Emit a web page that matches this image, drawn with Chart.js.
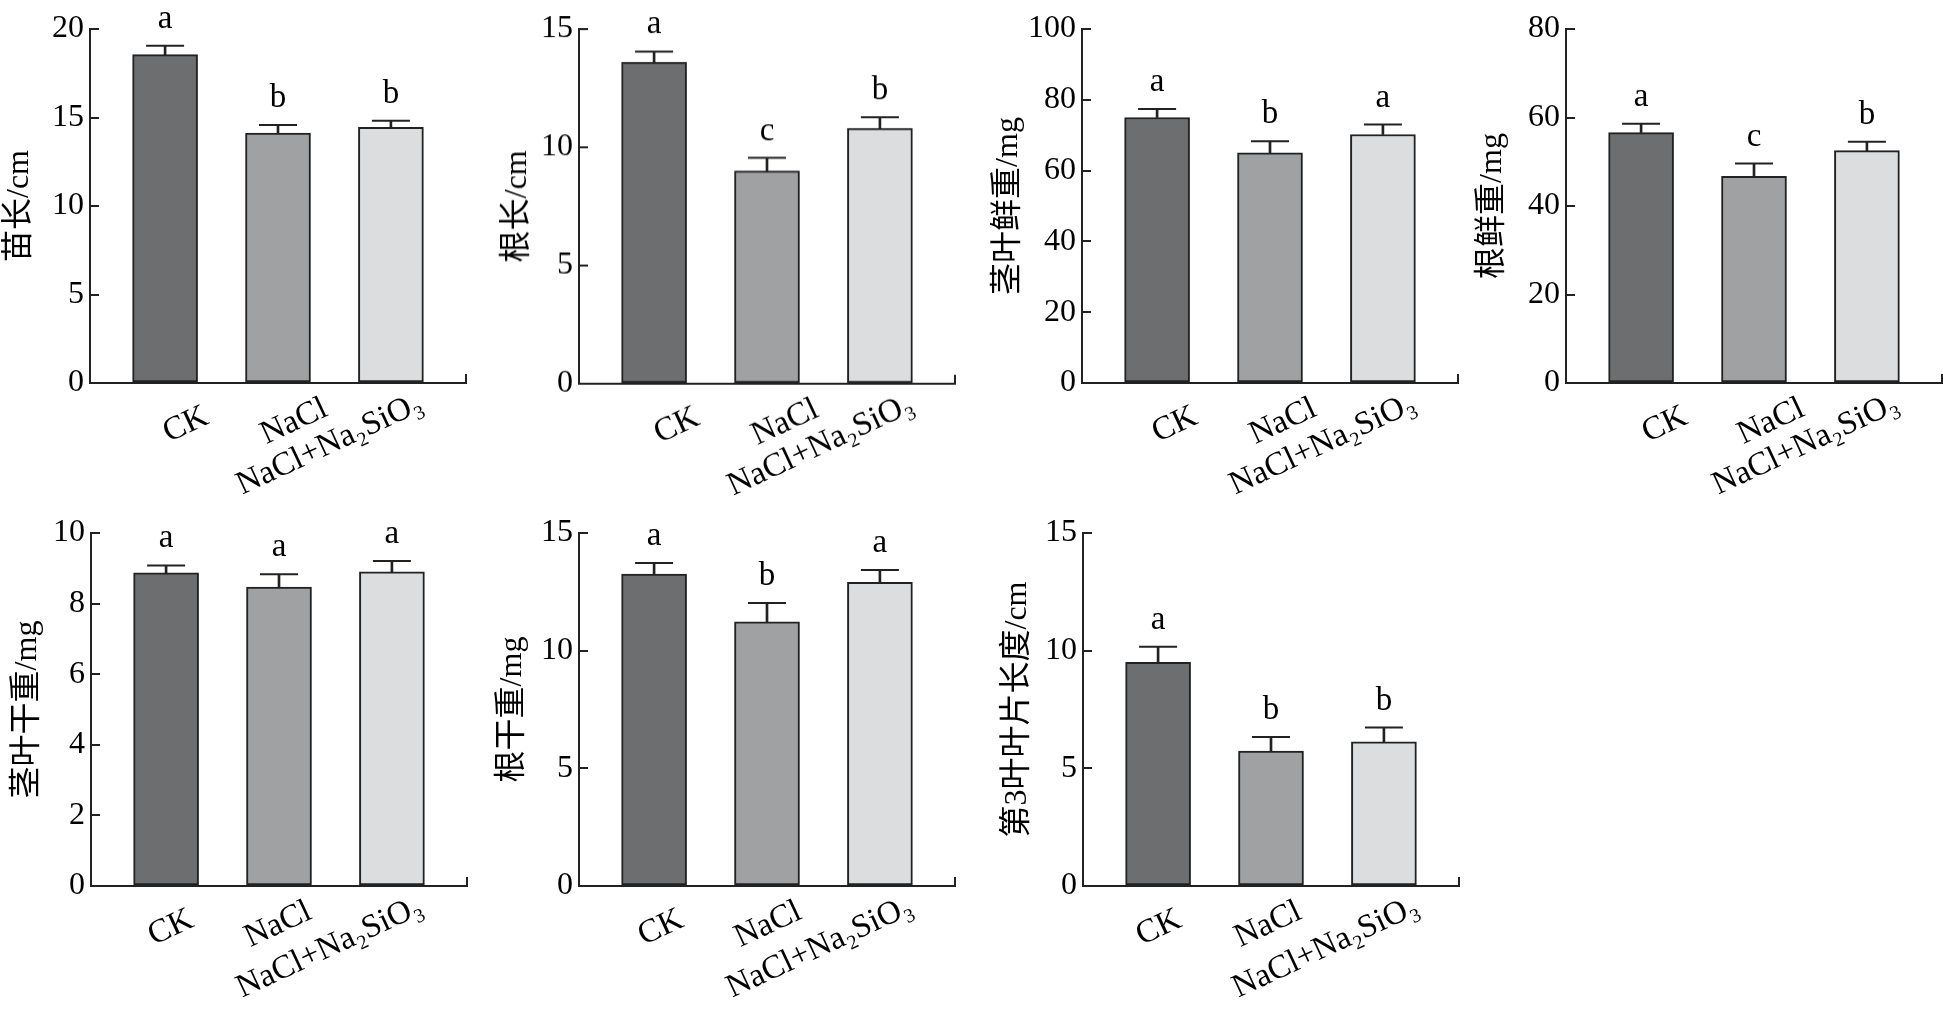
<!DOCTYPE html>
<html><head><meta charset="utf-8">
<script src="https://cdn.jsdelivr.net/npm/chart.js@4.4.1/dist/chart.umd.min.js"></script>
<style>
html,body{margin:0;padding:0;background:#fff;width:1943px;height:1023px;overflow:hidden}
#wrap{position:relative;width:1943px;height:1023px;overflow:hidden}
#wrap canvas{position:absolute}
</style></head><body><div id="wrap"></div>
<script>
// ---- data ----
const categories = ['CK', 'NaCl', 'NaCl+Na₂SiO₃'];
const titles = ['苗长/cm', '根长/cm', '茎叶鲜重/mg', '根鲜重/mg', '茎叶干重/mg', '根干重/mg', '第3叶叶片长度/cm'];
const yMax  = [20, 15, 100, 80, 10, 15, 15];
const yStep = [5, 5, 20, 20, 2, 5, 5];
const shootLength   = [18.55, 14.12, 14.44];
const rootLength    = [13.6, 9.0, 10.8];
const shootFresh    = [75.0, 65.0, 70.2];
const rootFresh     = [56.6, 46.7, 52.5];
const shootDry      = [8.87, 8.47, 8.90];
const rootDry       = [13.25, 11.23, 12.9];
const leaf3Length   = [9.5, 5.73, 6.13];
const shootLengthSE = [0.5, 0.45, 0.38];
const rootLengthSE  = [0.45, 0.55, 0.47];
const shootFreshSE  = [2.4, 3.3, 2.8];
const rootFreshSE   = [2.0, 2.9, 2.0];
const shootDrySE    = [0.21, 0.36, 0.31];
const rootDrySE     = [0.47, 0.8, 0.53];
const leaf3LengthSE = [0.67, 0.6, 0.6];
const sigLetters = [['a','b','b'], ['a','c','b'], ['a','b','a'], ['a','c','b'], ['a','a','a'], ['a','b','a'], ['a','b','b']];

const means = [shootLength, rootLength, shootFresh, rootFresh, shootDry, rootDry, leaf3Length];
const errs  = [shootLengthSE, rootLengthSE, shootFreshSE, rootFreshSE, shootDrySE, rootDrySE, leaf3LengthSE];

// ---- layout (axis x, chart top, chart bottom, title offset, label shifts in px) ----
const layoutBoxes = [
  {ax: 90,     top: 29.3,  bottom: 383.3, t: 71,   ls: [41.6, 47.6, 30]},
  {ax: 579,    top: 29.3,  bottom: 384,   t: 61.5, ls: [43.6, 49.6, 32]},
  {ax: 1081.7, top: 29.3,  bottom: 383.3, t: 73.7, ls: [38.6, 44.6, 31]},
  {ax: 1566,   top: 29.3,  bottom: 383.3, t: 74,   ls: [44.6, 48.6, 30]},
  {ax: 90.7,   top: 532.7, bottom: 886,   t: 64,   ls: [25.6, 30.6, 29]},
  {ax: 578.7,  top: 532.7, bottom: 886,   t: 67,   ls: [27.6, 32.6, 31]},
  {ax: 1083.3, top: 532.7, bottom: 886,   t: 66,   ls: [21.6, 28.6, 33]}
];
const labelPad = [14, 6, 1];
const AXW = 376, YW = 110, PADT = 32, XH = 140, PADR = 6;
const fills = ['#6d6e70', '#a0a1a3', '#dcdddf'];
const ink = '#222';
const serif = "'Liberation Serif','DejaVu Serif','Noto Sans CJK SC'";
const titleFont = "'Liberation Serif','Noto Sans CJK SC'";
const XPAD = 0.665;
const SPACING = AXW / (2 + 2 * XPAD);
const ROT = 25;

function noPad(s) { s.paddingLeft = 0; s.paddingRight = 0; s.paddingTop = 0; s.paddingBottom = 0; }

const letterPlugin = {
  id: 'sigLetters',
  afterDatasetsDraw(chart) {
    const cfg = chart.options.plugins.sigLetters;
    const ctx = chart.ctx;
    const xs = chart.scales.x, ys = chart.scales.y;
    ctx.save();
    ctx.font = '33px ' + serif;
    ctx.fillStyle = '#000';
    ctx.textAlign = 'center';
    ctx.textBaseline = 'alphabetic';
    cfg.letters.forEach((l, i) => {
      ctx.fillText(l, xs.getPixelForValue(i), ys.getPixelForValue(cfg.m[i] + cfg.e[i]) - 18);
    });
    ctx.restore();
  }
};

// label-only axis for one category, anchored at y = 0 (the x-axis line)
function labelAxis(b, i) {
  return {
    type: 'linear', position: {y: 0}, axis: 'x',
    min: -XPAD, max: 2 + XPAD, offset: false,
    afterBuildTicks: s => { s.ticks = [{value: i + b.ls[i] / SPACING}]; },
    afterFit: s => { noPad(s); },
    grid: {display: false, drawTicks: false},
    border: {display: false},
    ticks: {
      autoSkip: false, minRotation: ROT, maxRotation: ROT,
      padding: labelPad[i], color: '#000',
      font: {family: serif, size: 33},
      callback: () => categories[i]
    }
  };
}

const wrap = document.getElementById('wrap');
layoutBoxes.forEach((b, p) => {
  const h = b.bottom - b.top;
  const cv = document.createElement('canvas');
  const W = YW + AXW + PADR, H = PADT + h + XH;
  cv.width = W; cv.height = H;
  cv.style.left = (b.ax - YW) + 'px';
  cv.style.top = (b.top - PADT) + 'px';
  cv.style.width = W + 'px'; cv.style.height = H + 'px';
  wrap.appendChild(cv);
  const m = means[p], e = errs[p];
  const scales = {
    x: {
      type: 'linear', position: 'bottom',
      min: -XPAD, max: 2 + XPAD, offset: false,
      afterBuildTicks: s => { s.ticks = [-XPAD, 0, 1, 2, 2 + XPAD].map(v => ({value: v})); },
      afterFit: s => { s.height = XH; noPad(s); },
      grid: {drawOnChartArea: false, drawTicks: true, tickLength: -9, color: ink, lineWidth: 2, offset: false},
      border: {display: true, color: ink, width: 2},
      ticks: {display: false}
    },
    y: {
      min: 0, max: yMax[p],
      afterFit: s => { s.width = YW; noPad(s); },
      grid: {drawOnChartArea: false, drawTicks: true, tickLength: -9, color: ink, lineWidth: 2},
      border: {display: true, color: ink, width: 2},
      ticks: {stepSize: yStep[p], padding: 15, color: '#000', font: {family: serif, size: 32}},
      title: {display: true, text: titles[p], color: '#000', font: {family: titleFont, size: 32}, padding: {top: 91 - b.t, bottom: 0}}
    }
  };
  categories.forEach((c, i) => { scales['xl' + i] = labelAxis(b, i); });
  new Chart(cv, {
    type: 'bar',
    data: {
      datasets: [
        {
          type: 'line',
          data: m.map((v, i) => ({x: i, y: v + e[i]})),
          showLine: false,
          pointStyle: 'line',
          pointRadius: 19,
          pointBorderWidth: 2,
          pointBorderColor: ink,
          borderColor: ink,
          order: 0,
          clip: false
        },
        {
          type: 'bar',
          data: m.map((v, i) => ({x: i, y: [v, v + e[i]]})),
          backgroundColor: ink,
          borderWidth: 0,
          barThickness: 2,
          grouped: false,
          order: 1
        },
        {
          type: 'bar',
          data: m.map((v, i) => ({x: i, y: v})),
          backgroundColor: fills,
          borderColor: ink,
          borderWidth: 2,
          borderSkipped: false,
          barThickness: 65,
          grouped: false,
          order: 2
        }
      ]
    },
    options: {
      responsive: false,
      animation: false,
      devicePixelRatio: 1,
      events: [],
      layout: {autoPadding: false, padding: {top: PADT, right: PADR, left: 0, bottom: 0}},
      plugins: {
        legend: {display: false},
        tooltip: {enabled: false},
        sigLetters: {letters: sigLetters[p], m: m, e: e}
      },
      scales: scales
    },
    plugins: [letterPlugin]
  });
});
</script>
</body></html>
